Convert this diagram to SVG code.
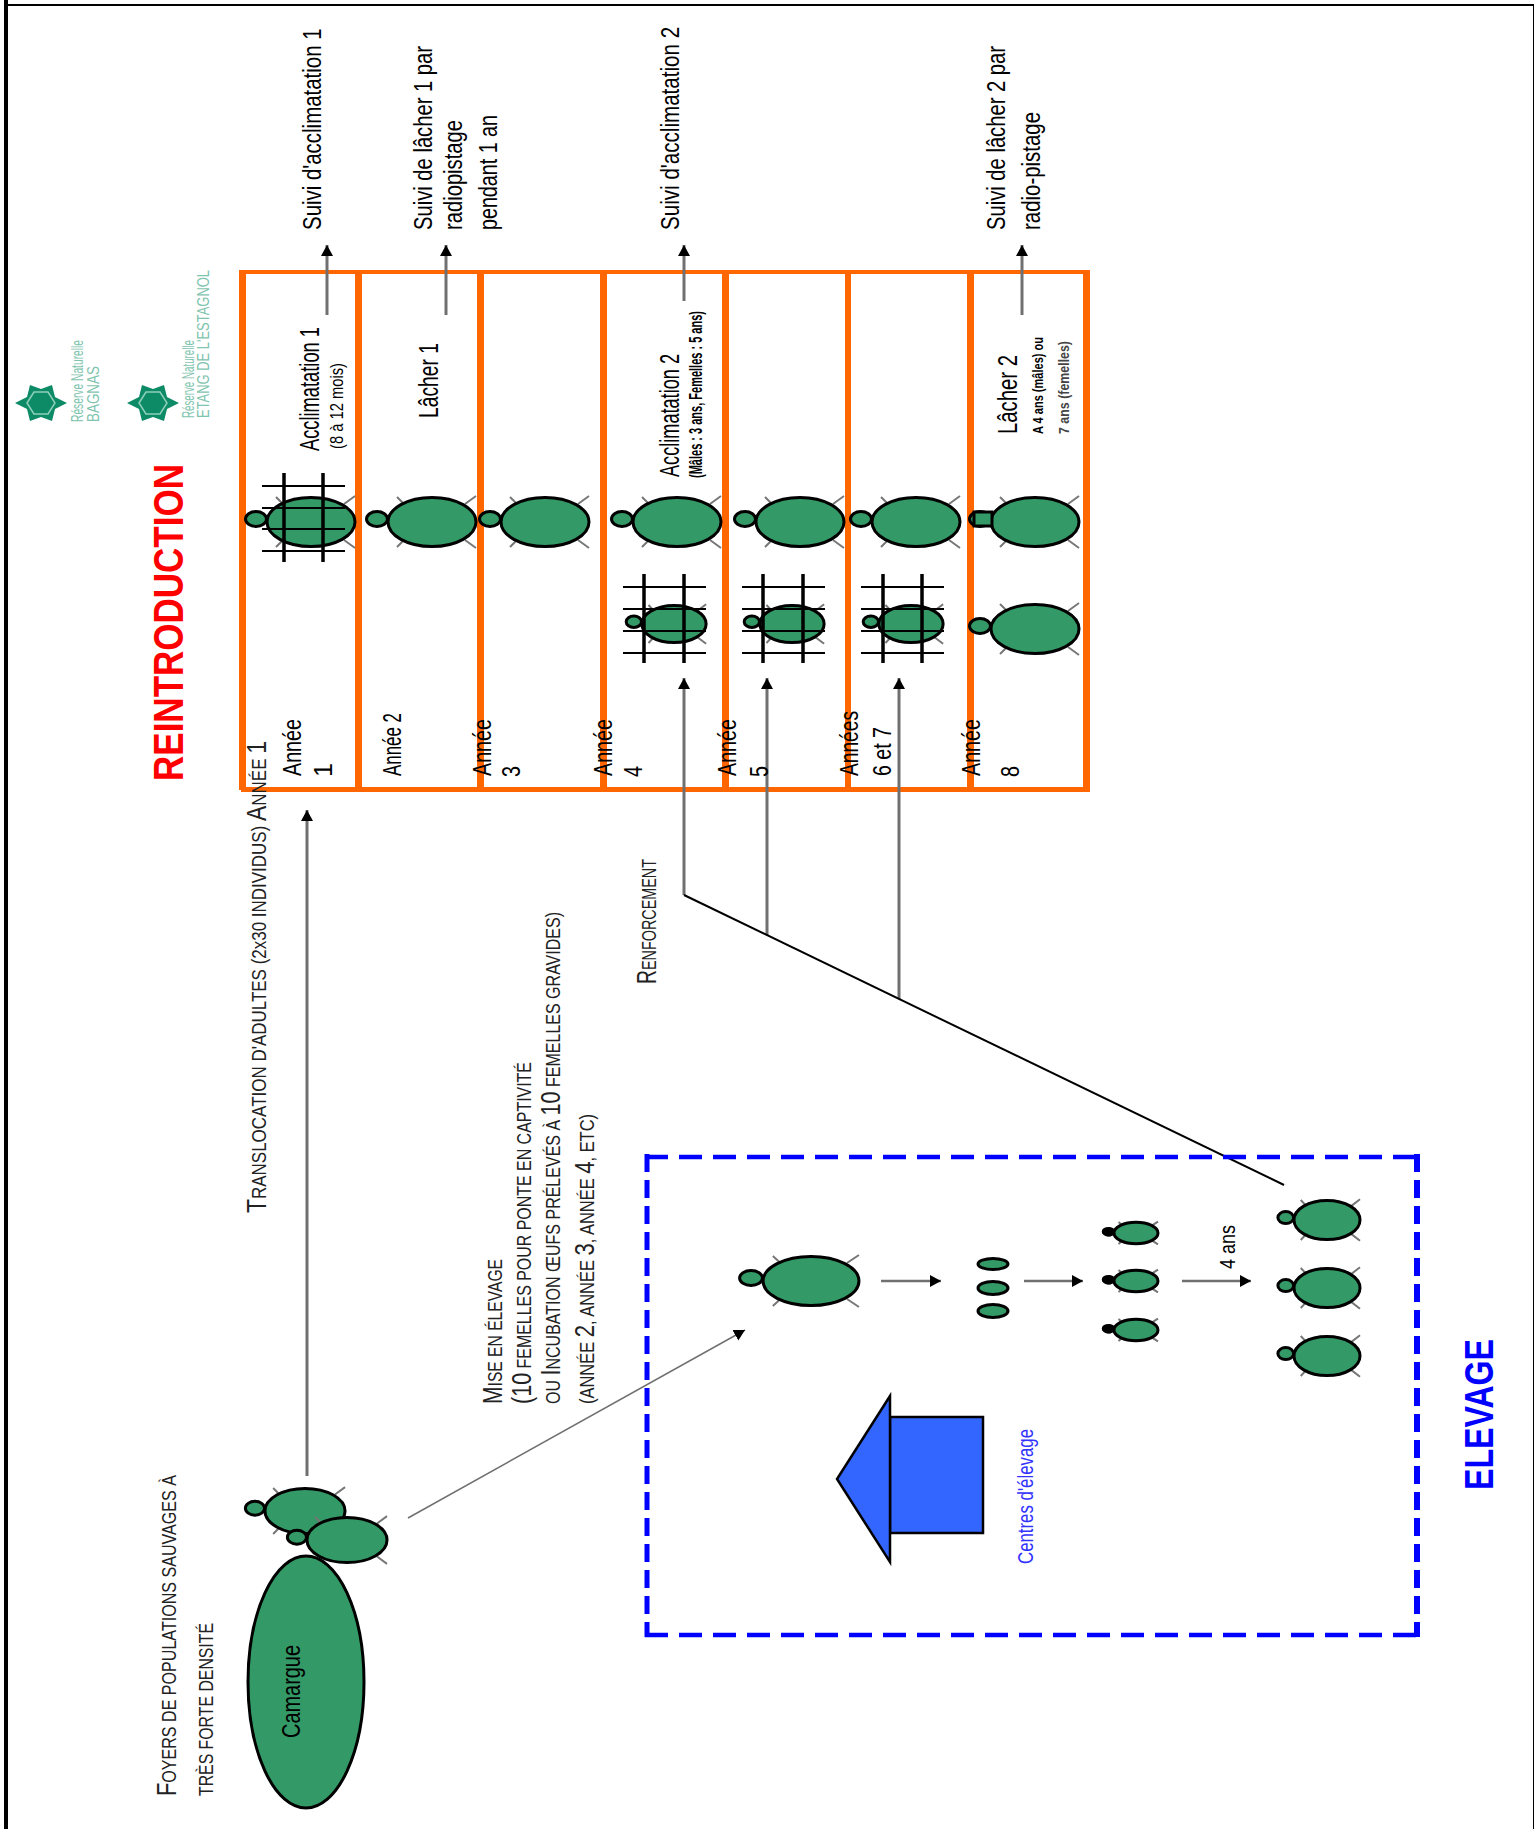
<svg xmlns="http://www.w3.org/2000/svg" xmlns:xlink="http://www.w3.org/1999/xlink" width="1534" height="1829" viewBox="0 0 1534 1829">
<style>
text{font-family:"Liberation Sans",Arial,sans-serif;fill:#000;font-size:25px;white-space:pre}
.sc{font-size:20px;fill:#222}
.b{font-size:27px}
.sm{font-size:18px}
.xs{font-size:14px}
.shell{fill:#339966;stroke:#000;stroke-width:3;vector-effect:non-scaling-stroke}
.leg{stroke:#777;stroke-width:2;fill:none;vector-effect:non-scaling-stroke}
.or{fill:#ff6600}
.cage{stroke:#000;fill:none}
.ar{stroke:#707070;stroke-width:3;fill:none;marker-end:url(#ah)}
.dash{stroke:#0000ff;fill:none}
.logo{fill:#0d8a66}
.lt{fill:#7fc4ae;font-size:17px}
</style>
<defs>
<marker id="ah" markerUnits="userSpaceOnUse" markerWidth="14" markerHeight="14" refX="11" refY="6" orient="auto"><path d="M0,0L11,6L0,12z" fill="#000"/></marker>
<g id="turtle">
<path class="leg" d="M-28,-18L-35,-25M33,-18L44,-26M-28,18L-35,25M33,18L44,26"/>
<ellipse class="shell" cx="-55" cy="-3" rx="10.5" ry="7.5"/>
<ellipse class="shell" cx="0" cy="0" rx="44" ry="24.5"/>
</g>
<g id="star">
<path class="logo" d="M-26,0L-14,-6L-11,-18L0,-14L11,-18L14,-6L26,0L14,6L11,18L0,14L-11,18L-14,6z"/>
<path d="M-14,0L-7,-11L7,-11L14,0L7,11L-7,11z" fill="none" stroke="#8fd0bb" stroke-width="1.5"/>
</g>
</defs>
<rect width="1534" height="1829" fill="#fff"/>
<g id="page-border"><rect x="4" y="0" width="4" height="1829"/><rect x="4" y="4" width="1530" height="2"/><rect x="1533" y="4" width="1" height="1825"/></g>

<g id="logos">
<use xlink:href="#star" href="#star" x="41" y="403"/>
<use xlink:href="#star" href="#star" x="153" y="403"/>
<text class="lt" transform="translate(83,422) rotate(-90)" textLength="82" lengthAdjust="spacingAndGlyphs">Réserve Naturelle</text>
<text class="lt" transform="translate(99,422) rotate(-90)" textLength="56" lengthAdjust="spacingAndGlyphs">BAGNAS</text>
<text class="lt" transform="translate(194,418) rotate(-90)" textLength="78" lengthAdjust="spacingAndGlyphs">Réserve Naturelle</text>
<text class="lt" transform="translate(209,418) rotate(-90)" textLength="148" lengthAdjust="spacingAndGlyphs">ETANG DE L'ESTAGNOL</text>
</g>

<g id="reintroduction-frame">
<rect class="or" x="239" y="270" width="851" height="4"/>
<rect class="or" x="241" y="787" width="849" height="5"/>
<rect class="or" x="239" y="270" width="7" height="520"/>
<rect class="or" x="355" y="270" width="7" height="522"/>
<rect class="or" x="477" y="270" width="7" height="522"/>
<rect class="or" x="600" y="270" width="7" height="522"/>
<rect class="or" x="722" y="270" width="7" height="522"/>
<rect class="or" x="845" y="270" width="6" height="522"/>
<rect class="or" x="967" y="270" width="7" height="522"/>
<rect class="or" x="1083" y="270" width="7" height="522"/>
</g>

<g id="connectors">
<path class="ar" d="M327,315V245"/>
<path class="ar" d="M446,315V245"/>
<path class="ar" d="M684,301V245"/>
<path class="ar" d="M1022,315V245"/>
<path class="ar" d="M684,895V678"/>
<path class="ar" d="M767,935V678"/>
<path class="ar" d="M899,999V678"/>
<path d="M684,895L1284,1185" stroke="#000" stroke-width="2" fill="none"/>
<path class="ar" d="M307,1476V810"/>
<path class="ar" style="stroke-width:1.5" d="M408,1518L745,1330"/>
<path class="ar" style="stroke-width:2.5" d="M881,1281H941"/>
<path class="ar" style="stroke-width:2.5" d="M1024,1281H1083"/>
<path class="ar" style="stroke-width:2.5" d="M1182,1281H1251"/>
</g>

<g id="row1"><use href="#turtle" x="311" y="522"/>
<path class="cage" stroke-width="3.5" d="M284,473V562M323,473V562"/><path class="cage" stroke-width="2" d="M262,486H345M262,508H345M262,529H345M262,551H345"/>
<text class="b" transform="translate(319,451) rotate(-90)" textLength="124" lengthAdjust="spacingAndGlyphs">Acclimatation 1</text>
<text class="sm" transform="translate(343,449) rotate(-90)" textLength="86" lengthAdjust="spacingAndGlyphs">(8 à 12 mois)</text>
<text transform="translate(301,776) rotate(-90)" textLength="57" lengthAdjust="spacingAndGlyphs">Année</text>
<text transform="translate(332,777) rotate(-90)">1</text>
</g>
<g id="row2"><use href="#turtle" x="432" y="522"/>
<text class="b" transform="translate(438,418) rotate(-90)" textLength="75" lengthAdjust="spacingAndGlyphs">Lâcher 1</text>
<text transform="translate(401,776) rotate(-90)" textLength="63" lengthAdjust="spacingAndGlyphs">Année 2</text>
</g>
<g id="row3"><use href="#turtle" x="545" y="522"/>
<text transform="translate(491,776) rotate(-90)" textLength="57" lengthAdjust="spacingAndGlyphs">Année</text>
<text transform="translate(520,777) rotate(-90)" textLength="11" lengthAdjust="spacingAndGlyphs">3</text>
</g>
<g id="row4"><use href="#turtle" x="677" y="522"/><use href="#turtle" transform="translate(674,624) scale(.73,.76)"/>
<path class="cage" stroke-width="3.5" d="M644,574V663M684,574V663"/><path class="cage" stroke-width="2" d="M623,587H706M623,609H706M623,631H706M623,653H706"/>
<text class="b" transform="translate(679,477) rotate(-90)" textLength="123" lengthAdjust="spacingAndGlyphs">Acclimatation 2</text>
<text class="sm" style="font-weight:bold" transform="translate(702,478) rotate(-90)" textLength="167" lengthAdjust="spacingAndGlyphs">(Mâles : 3 ans, Femelles : 5 ans)</text>
<text transform="translate(612,776) rotate(-90)" textLength="57" lengthAdjust="spacingAndGlyphs">Année</text>
<text transform="translate(642,777) rotate(-90)" textLength="11" lengthAdjust="spacingAndGlyphs">4</text>
</g>
<g id="row5"><use href="#turtle" x="800" y="522"/><use href="#turtle" transform="translate(792,624) scale(.73,.76)"/>
<path class="cage" stroke-width="3.5" d="M763,574V663M803,574V663"/><path class="cage" stroke-width="2" d="M742,587H825M742,609H825M742,631H825M742,653H825"/>
<text transform="translate(736,776) rotate(-90)" textLength="57" lengthAdjust="spacingAndGlyphs">Année</text>
<text transform="translate(768,777) rotate(-90)" textLength="11" lengthAdjust="spacingAndGlyphs">5</text>
</g>
<g id="row6"><use href="#turtle" x="916" y="522"/><use href="#turtle" transform="translate(911,624) scale(.73,.76)"/>
<path class="cage" stroke-width="3.5" d="M883,574V663M922,574V663"/><path class="cage" stroke-width="2" d="M861,587H944M861,609H944M861,631H944M861,653H944"/>
<text transform="translate(858,776) rotate(-90)" textLength="65" lengthAdjust="spacingAndGlyphs">Années</text>
<text transform="translate(891,776) rotate(-90)" textLength="49" lengthAdjust="spacingAndGlyphs">6 et 7</text>
</g>
<g id="row7"><use href="#turtle" x="1035" y="522"/><rect class="shell" x="974" y="512" width="18" height="14"/><use href="#turtle" x="1035" y="629"/>
<text class="b" transform="translate(1017,434) rotate(-90)" textLength="79" lengthAdjust="spacingAndGlyphs">Lâcher 2</text>
<text class="xs" style="font-weight:bold" transform="translate(1043,434) rotate(-90)" textLength="97" lengthAdjust="spacingAndGlyphs">A 4 ans (mâles) ou</text>
<text class="xs" style="font-weight:bold;fill:#444" transform="translate(1069,434) rotate(-90)" textLength="93" lengthAdjust="spacingAndGlyphs">7 ans (femelles)</text>
<text transform="translate(980,776) rotate(-90)" textLength="57" lengthAdjust="spacingAndGlyphs">Année</text>
<text transform="translate(1019,777) rotate(-90)" textLength="11" lengthAdjust="spacingAndGlyphs">8</text>
</g>

<g id="labels">
<text style="font-weight:bold;font-size:42px;fill:#ff0000" transform="translate(183,781) rotate(-90)" textLength="317" lengthAdjust="spacingAndGlyphs">REINTRODUCTION</text>
<text transform="translate(321,230) rotate(-90) scale(.8,1)" textLength="252" lengthAdjust="spacingAndGlyphs">Suivi d'acclimatation 1</text>
<text transform="translate(432,230) rotate(-90)" textLength="184" lengthAdjust="spacingAndGlyphs">Suivi de lâcher 1 par</text>
<text transform="translate(462,230) rotate(-90)" textLength="110" lengthAdjust="spacingAndGlyphs">radiopistage</text>
<text transform="translate(497,230) rotate(-90)" textLength="115" lengthAdjust="spacingAndGlyphs">pendant 1 an</text>
<text transform="translate(679,230) rotate(-90) scale(.8,1)" textLength="254" lengthAdjust="spacingAndGlyphs">Suivi d'acclimatation 2</text>
<text transform="translate(1005,230) rotate(-90)" textLength="184" lengthAdjust="spacingAndGlyphs">Suivi de lâcher 2 par</text>
<text transform="translate(1040,230) rotate(-90)" textLength="118" lengthAdjust="spacingAndGlyphs">radio-pistage</text>
<text class="sc" transform="translate(266,1213) rotate(-90)" textLength="472" lengthAdjust="spacingAndGlyphs"><tspan class="b">T</tspan>RANSLOCATION D'ADULTES (2x30 INDIVIDUS) <tspan class="b">A</tspan>NNÉE <tspan class="b">1</tspan></text>
<text class="sc" transform="translate(656,984) rotate(-90)" textLength="125" lengthAdjust="spacingAndGlyphs"><tspan class="b">R</tspan>ENFORCEMENT</text>
<text class="sc" transform="translate(176,1796) rotate(-90)" textLength="321" lengthAdjust="spacingAndGlyphs"><tspan class="b">F</tspan>OYERS DE POPULATIONS SAUVAGES À</text>
<text class="sc" transform="translate(213,1796) rotate(-90)" textLength="173" lengthAdjust="spacingAndGlyphs">TRÈS FORTE DENSITÉ</text>
<text class="sc" transform="translate(502,1404) rotate(-90)" textLength="145" lengthAdjust="spacingAndGlyphs"><tspan class="b">M</tspan>ISE EN ÉLEVAGE</text>
<text class="sc" transform="translate(531,1404) rotate(-90)" textLength="342" lengthAdjust="spacingAndGlyphs"><tspan class="b">(10</tspan> FEMELLES POUR PONTE EN CAPTIVITÉ</text>
<text class="sc" transform="translate(560,1404) rotate(-90)" textLength="492" lengthAdjust="spacingAndGlyphs">OU <tspan class="b">I</tspan>NCUBATION ŒUFS PRÉLEVÉS À <tspan class="b">10</tspan> FEMELLES GRAVIDES)</text>
<text class="sc" transform="translate(594,1404) rotate(-90)" textLength="290" lengthAdjust="spacingAndGlyphs">(ANNÉE <tspan class="b">2</tspan>, ANNÉE <tspan class="b">3</tspan>, ANNÉE <tspan class="b">4</tspan>, ETC)</text>
</g>

<g id="camargue-turtles">
<use href="#turtle" transform="translate(305,1511) scale(.91,.92)"/>
<use href="#turtle" transform="translate(347,1540) scale(.91,.92)"/>
</g>
<g id="camargue">
<ellipse class="shell" cx="306" cy="1682" rx="58" ry="126"/>
<text transform="translate(300,1738) rotate(-90)" textLength="93" lengthAdjust="spacingAndGlyphs">Camargue</text>
</g>

<g id="elevage-box">
<path class="dash" stroke-width="5" stroke-dasharray="18 8" d="M647,1154V1637"/>
<path class="dash" stroke-width="6" stroke-dasharray="18 8" d="M1417,1154V1637"/>
<path class="dash" stroke-width="4.5" stroke-dasharray="23 11" d="M645,1157H1420"/>
<path class="dash" stroke-width="4.5" stroke-dasharray="23 11" d="M645,1635H1420"/>
<text style="font-weight:bold;font-size:40px;fill:#0000ff" transform="translate(1493,1490) rotate(-90)" textLength="151" lengthAdjust="spacingAndGlyphs">ELEVAGE</text>
</g>

<g id="elevage-parent"><use href="#turtle" transform="translate(811,1281) scale(1.09,1)"/></g>
<g id="elevage-eggs">
<ellipse class="shell" cx="993" cy="1264" rx="15" ry="5.5"/>
<ellipse class="shell" cx="993" cy="1288" rx="15" ry="6.5"/>
<ellipse class="shell" cx="993" cy="1311" rx="15" ry="6.5"/>
</g>
<g id="elevage-young">
<use href="#turtle" transform="translate(1136,1233) scale(.5,.44)"/><ellipse cx="1109" cy="1232" rx="5" ry="4.5"/>
<use href="#turtle" transform="translate(1136,1281) scale(.5,.44)"/><ellipse cx="1109" cy="1280" rx="5" ry="4.5"/>
<use href="#turtle" transform="translate(1136,1330) scale(.5,.44)"/><ellipse cx="1109" cy="1329" rx="5" ry="4.5"/>
</g>
<g id="elevage-adults">
<use href="#turtle" transform="translate(1327,1220) scale(.75,.8)"/>
<use href="#turtle" transform="translate(1327,1288) scale(.75,.8)"/>
<use href="#turtle" transform="translate(1327,1356) scale(.75,.8)"/>
</g>
<text transform="translate(1235,1269) rotate(-90)" style="font-size:22px" textLength="44" lengthAdjust="spacingAndGlyphs">4 ans</text>

<g id="centre-elevage">
<rect x="890" y="1417" width="93" height="116" fill="#3366ff" stroke="#000" stroke-width="2.5"/>
<path d="M890,1396L837,1479L890,1562z" fill="#3366ff" stroke="#000" stroke-width="2.5"/>
<text style="fill:#3333ff;font-size:22px" transform="translate(1033,1564) rotate(-90)" textLength="135" lengthAdjust="spacingAndGlyphs">Centres d'élevage</text>
</g>
</svg>
